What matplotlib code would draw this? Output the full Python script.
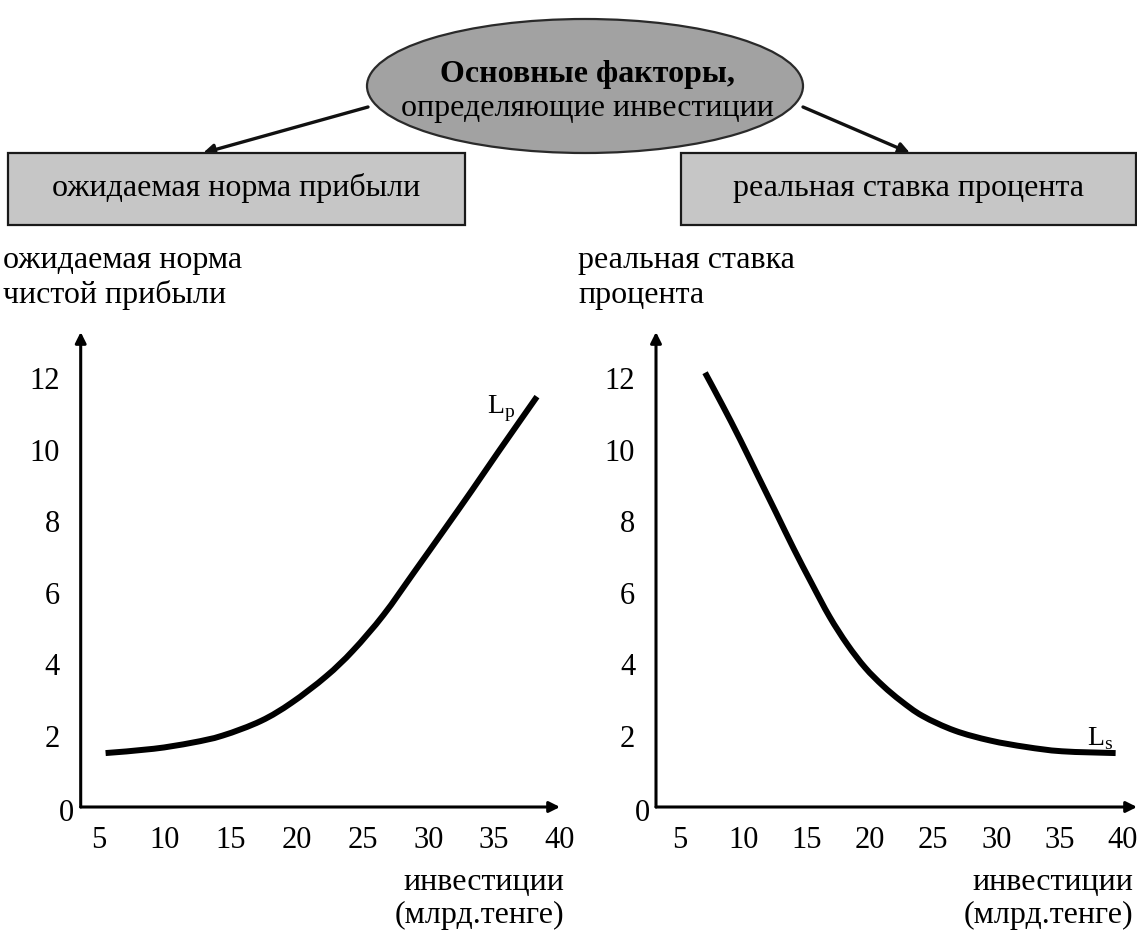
import matplotlib
matplotlib.use("Agg")
import numpy as np
import matplotlib.pyplot as plt
from matplotlib.patches import Ellipse, Rectangle, FancyArrowPatch, PathPatch
from matplotlib.path import Path

plt.rcParams["font.family"] = ["Liberation Serif", "DejaVu Serif"]
plt.rcParams["mathtext.fontset"] = "custom"
plt.rcParams["mathtext.rm"] = "Liberation Serif"

# ---- data -------------------------------------------------------------
invest_ticks = [5, 10, 15, 20, 25, 30, 35, 40]
rate_ticks = [2, 4, 6, 8, 10, 12]

# expected net rate of return vs investment (curve Lp)
profit_x = [5.49, 9.14, 12.05, 14.38, 17.29, 19.62, 22.24, 24.28,
            26.60, 28.93, 31.26, 33.30, 35.33, 38.25]
profit_y = [1.51, 1.63, 1.80, 2.00, 2.41, 2.92, 3.66, 4.38,
            5.38, 6.58, 7.79, 8.86, 9.95, 11.49]

# real interest rate vs investment (curve Ls)
interest_x = [6.97, 8.33, 9.74, 11.15, 12.57, 13.98, 15.40, 16.81, 18.22,
              19.63, 21.05, 22.46, 24.16, 26.70, 29.53, 32.36, 35.19, 39.43]
interest_y = [12.16, 11.26, 10.29, 9.27, 8.25, 7.23, 6.26, 5.33, 4.55,
              3.90, 3.39, 2.97, 2.55, 2.14, 1.86, 1.68, 1.56, 1.51]

title_bold = "Основные факторы,"
title_rest = "определяющие инвестиции"
factor_left = "ожидаемая норма прибыли"
factor_right = "реальная ставка процента"
ylabel_left = ["ожидаемая норма", "чистой прибыли"]
ylabel_right = ["реальная ставка", "процента"]
xlabel = ["инвестиции", "(млрд.тенге)"]

# ---- figure -----------------------------------------------------------
W, H = 1137, 942
fig = plt.figure(figsize=(W / 100, H / 100), dpi=100)
fig.patch.set_facecolor("white")


def fx(x):
    return x / W


def fy(y):
    return 1 - y / H


TXT = 23
TICK = 22


def smooth_path(xs, ys):
    """Catmull-Rom curve through the given points, as cubic Bezier segments."""
    pts = np.column_stack([xs, ys]).astype(float)
    n = len(pts)
    verts = [pts[0]]
    codes = [Path.MOVETO]
    for i in range(n - 1):
        p0 = pts[i - 1] if i > 0 else pts[i]
        p1, p2 = pts[i], pts[i + 1]
        p3 = pts[i + 2] if i + 2 < n else pts[i + 1]
        verts += [p1 + (p2 - p0) / 6, p2 - (p3 - p1) / 6, p2]
        codes += [Path.CURVE4] * 3
    return Path(verts, codes)


# central ellipse with the heading
fig.add_artist(Ellipse((fx(585), fy(86)), 436 / W, 134 / H,
                       transform=fig.transFigure, facecolor="#a2a2a2",
                       edgecolor="#2a2a2a", lw=1.6))
fig.text(fx(587), fy(82), title_bold, ha="center", va="baseline",
         fontsize=TXT, fontweight="bold")
fig.text(fx(587), fy(116), title_rest, ha="center", va="baseline",
         fontsize=TXT)

# arrows from the ellipse to the two factor boxes
for a, b in [((368, 107), (203, 153)), ((803, 107), (910, 153))]:
    fig.add_artist(FancyArrowPatch((fx(a[0]), fy(a[1])), (fx(b[0]), fy(b[1])),
                                   transform=fig.transFigure,
                                   arrowstyle="-|>", mutation_scale=16,
                                   lw=2.4, color="#111111",
                                   shrinkA=0, shrinkB=0))

# factor boxes
for x0, x1, label in [(8, 465, factor_left), (681, 1136, factor_right)]:
    fig.add_artist(Rectangle((fx(x0), fy(225)), (x1 - x0) / W, 72 / H,
                             transform=fig.transFigure, facecolor="#c6c6c6",
                             edgecolor="#1a1a1a", lw=1.6))
    fig.text(fx((x0 + x1) / 2), fy(196), label, ha="center",
             va="baseline", fontsize=TXT)


def panel(left_px, xlim, xs, ys, curve_label, label_pos, ylab, xlab_right):
    ax = fig.add_axes([fx(left_px), fy(807), (xlim[2] - left_px) / W,
                       (807 - 332) / H])
    ax.patch.set_alpha(0)
    for s in ax.spines.values():
        s.set_visible(False)
    ax.add_patch(PathPatch(smooth_path(xs, ys), facecolor="none",
                           edgecolor="black", lw=4.3, capstyle="butt",
                           joinstyle="round", clip_on=False))
    ax.set_xlim(xlim[0], xlim[1])
    ax.set_ylim(0, 13.3)
    ax.set_xticks(invest_ticks)
    ax.set_yticks(rate_ticks)
    ax.tick_params(length=0, labelsize=TICK)
    ax.tick_params(axis="x", pad=14)
    ax.tick_params(axis="y", pad=15)
    arrow = dict(arrowstyle="-|>", lw=2.2, color="black",
                 mutation_scale=16, shrinkA=0, shrinkB=0)
    ax.annotate("", xy=(1, 0), xytext=(0, 0), xycoords="axes fraction",
                arrowprops=arrow, annotation_clip=False)
    ax.annotate("", xy=(0, 1), xytext=(0, 0), xycoords="axes fraction",
                arrowprops=arrow, annotation_clip=False)
    ax.annotate("0", xy=(0, 0), xycoords="axes fraction",
                xytext=(-10, -5), textcoords="offset points",
                ha="center", va="center", fontsize=TICK,
                annotation_clip=False)
    ax.text(label_pos[0], label_pos[1], curve_label, fontsize=20,
            ha="left", va="baseline")
    # axis captions
    fig.text(fx(left_px - 78), fy(268), ylab[0], ha="left",
             va="baseline", fontsize=TXT)
    fig.text(fx(left_px - 78), fy(303), ylab[1], ha="left",
             va="baseline", fontsize=TXT)
    fig.text(fx(xlab_right), fy(890), xlabel[0], ha="right",
             va="baseline", fontsize=TXT)
    fig.text(fx(xlab_right), fy(923), xlabel[1], ha="right",
             va="baseline", fontsize=TXT)
    return ax


panel(80.7, (3.60, 40.0, 560), profit_x, profit_y,
      r"L$_\mathrm{p}$", (34.45, 11.02), ylabel_left, 564)
panel(656, (3.09, 41.12, 1137), interest_x, interest_y,
      r"L$_\mathrm{s}$", (37.17, 1.72), ylabel_right, 1133)

fig.savefig("out.png", dpi=100)
